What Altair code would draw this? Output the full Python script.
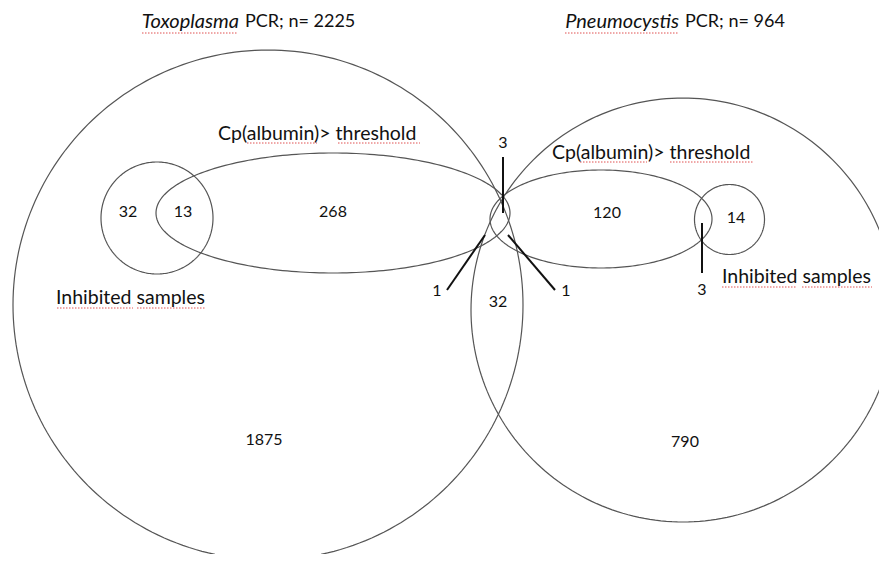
import altair as alt
import numpy as np
import pandas as pd

# ---- diagram geometry (coordinates in page pixels of the original figure) ----
shape_names = ["Toxoplasma", "Pneumocystis", "Cp_left", "Cp_right", "Inhib_left", "Inhib_right"]
shape_cx = [268, 683, 333, 601, 157, 729.5]
shape_cy = [305, 310, 213, 219, 218, 219.5]
shape_rx = [255, 212, 177, 111, 56, 35]
shape_ry = [255, 212, 60, 49, 56, 35]

# pointer lines for small intersection counts
ptr_x1 = [503, 485, 508, 702]
ptr_y1 = [157, 235, 235, 223]
ptr_x2 = [503, 447, 555, 702]
ptr_y2 = [213, 290, 290, 273]

# region counts
count_text = ["32", "13", "268", "120", "14", "32", "1875", "790", "3", "1", "1", "3"]
count_x = [128, 183, 333, 607, 736, 498, 264, 685, 503, 437, 566, 702]
count_y = [212, 212, 212, 213, 218, 302, 440, 442, 143, 291, 291, 290]

# labels
label_text = ["Cp(albumin)> threshold", "Cp(albumin)> threshold", "Inhibited samples", "Inhibited samples"]
label_x = [218, 552, 56, 722]
label_y = [134, 153, 298, 277]

# titles: italic genus + plain rest
genus_text = ["Toxoplasma", "Pneumocystis"]
genus_x_end = [239, 679]
rest_text = ["PCR; n= 2225", "PCR; n= 964"]
title_y = [22, 22]

# spell-check squiggles (decorative)
sq_x1 = [142, 565, 247, 338, 580, 670, 57, 137, 722, 802]
sq_x2 = [238, 678, 317, 420, 647, 753, 133, 205, 797, 872]
sq_y = [33, 33, 143, 143, 162, 162, 308, 308, 287, 287]

FONT = "Lato"
X0, X1, Y0, Y1 = 8, 879, 8, 554

xs = alt.Scale(domain=[X0, X1], zero=False, nice=False)
ys = alt.Scale(domain=[Y0, Y1], zero=False, nice=False, reverse=True)

rows = []
t = np.linspace(0, 2 * np.pi, 241)
for n, cx, cy, rx, ry in zip(shape_names, shape_cx, shape_cy, shape_rx, shape_ry):
    for i, tt in enumerate(t):
        rows.append({"shape": n, "i": i, "x": cx + rx * np.cos(tt), "y": cy + ry * np.sin(tt)})
shapes_df = pd.DataFrame(rows)

shapes = alt.Chart(shapes_df).mark_line(stroke="#555555", strokeWidth=1.2, clip=True).encode(
    x=alt.X("x:Q", scale=xs, axis=None),
    y=alt.Y("y:Q", scale=ys, axis=None),
    detail="shape:N",
    order="i:Q",
)

ptr_df = pd.DataFrame({"x": ptr_x1, "y": ptr_y1, "x2": ptr_x2, "y2": ptr_y2})
ptrs = alt.Chart(ptr_df).mark_rule(stroke="#111111", strokeWidth=2).encode(
    x=alt.X("x:Q", scale=xs, axis=None), y=alt.Y("y:Q", scale=ys, axis=None), x2="x2:Q", y2="y2:Q"
)

cnt_df = pd.DataFrame({"t": count_text, "x": count_x, "y": count_y})
counts = alt.Chart(cnt_df).mark_text(font=FONT, fontSize=16, color="#111111", baseline="middle", align="center").encode(
    x=alt.X("x:Q", scale=xs, axis=None), y=alt.Y("y:Q", scale=ys, axis=None), text="t:N"
)

lab_df = pd.DataFrame({"t": label_text, "x": label_x, "y": label_y})
labels = alt.Chart(lab_df).mark_text(font=FONT, fontSize=19.5, color="#111111", baseline="middle", align="left").encode(
    x=alt.X("x:Q", scale=xs, axis=None), y=alt.Y("y:Q", scale=ys, axis=None), text="t:N"
)

gen_df = pd.DataFrame({"t": genus_text, "x": genus_x_end, "y": title_y})
genus = alt.Chart(gen_df).mark_text(font=FONT, fontSize=20, fontStyle="italic", color="#111111", baseline="middle", align="right").encode(
    x=alt.X("x:Q", scale=xs, axis=None), y=alt.Y("y:Q", scale=ys, axis=None), text="t:N"
)
rest_df = pd.DataFrame({"t": rest_text, "x": genus_x_end, "y": title_y})
rest = alt.Chart(rest_df).mark_text(font=FONT, fontSize=18, color="#111111", baseline="middle", align="left", dx=6).encode(
    x=alt.X("x:Q", scale=xs, axis=None), y=alt.Y("y:Q", scale=ys, axis=None), text="t:N"
)

sq_df = pd.DataFrame({"x": sq_x1, "x2": sq_x2, "y": sq_y})
squig = alt.Chart(sq_df).mark_rule(stroke="#e05050", strokeWidth=1, strokeDash=[1.5, 1.5]).encode(
    x=alt.X("x:Q", scale=xs, axis=None), x2="x2:Q", y=alt.Y("y:Q", scale=ys, axis=None)
)

chart = alt.layer(shapes, ptrs, squig, counts, labels, genus, rest).properties(
    width=X1 - X0, height=Y1 - Y0, padding=0,
    autosize=alt.AutoSizeParams(type="fit", contains="padding"),
).configure_view(stroke=None)

chart.save("out.html", embed_options={"renderer": "svg", "actions": False})
